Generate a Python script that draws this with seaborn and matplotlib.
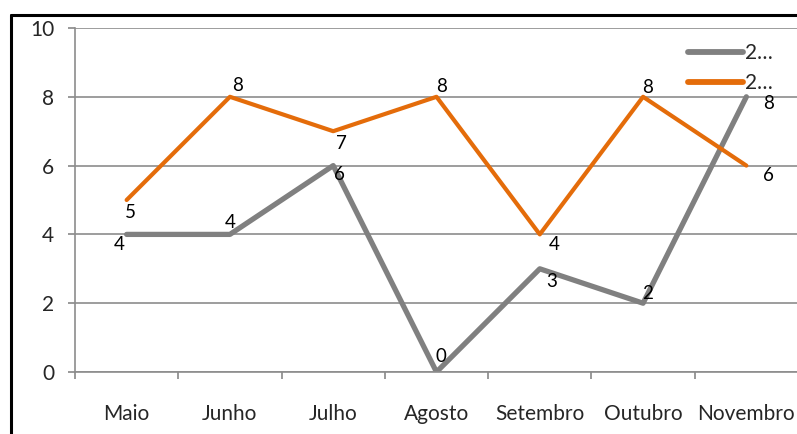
import matplotlib
matplotlib.use("Agg")
import matplotlib.pyplot as plt
import seaborn as sns
import pandas as pd
from matplotlib.lines import Line2D
from matplotlib.ticker import FixedLocator

meses = ["Maio", "Junho", "Julho", "Agosto", "Setembro", "Outubro", "Novembro"]
serie_cinza = [4, 4, 6, 0, 3, 2, 8]
serie_laranja = [5, 8, 7, 8, 4, 8, 6]
nomes_series = ["2…", "2…"]

# label offsets in pixels (dx, dy) relative to each point
off_cinza = [(-7, -10), (0, 12), (6, -9), (4, 15), (12, -13), (4, 10), (22, -7)]
off_laranja = [(4, -12), (8, 11), (8, -12), (5, 10), (14, -10), (4, 9), (22, -10)]

sns.set_theme(style="white")
plt.rcParams["font.family"] = ["Lato", "DejaVu Sans"]

fig = plt.figure(figsize=(7.97, 4.34), dpi=100)
ax = fig.add_axes([75 / 797, 62 / 434, 723 / 797, 344 / 434])

df = pd.DataFrame({"mes": list(range(len(meses))), "cinza": serie_cinza, "laranja": serie_laranja})

sns.lineplot(data=df, x="mes", y="cinza", ax=ax, color="#808080", linewidth=3.8,
             label=nomes_series[0], solid_capstyle="round")
sns.lineplot(data=df, x="mes", y="laranja", ax=ax, color="#E46C0A", linewidth=3.0,
             label=nomes_series[1], solid_capstyle="round")

for vals, offs in [(serie_cinza, off_cinza), (serie_laranja, off_laranja)]:
    for i, (v, (dx, dy)) in enumerate(zip(vals, offs)):
        ax.annotate(str(v), (i, v), xytext=(dx * 0.72, dy * 0.72), textcoords="offset points",
                    ha="center", va="center", fontsize=13.5, color="black")

ax.set_xlim(-0.5, len(meses) - 0.5)
ax.set_ylim(0, 10)
ax.set_yticks([0, 2, 4, 6, 8, 10])
ax.set_xticks(range(len(meses)))
ax.set_xticklabels(meses, fontsize=15)
ax.tick_params(axis="y", labelsize=15, length=5, width=1.2, color="#888888", direction="out", pad=10, left=True)
ax.tick_params(axis="x", which="major", length=0, pad=23)
ax.xaxis.set_minor_locator(FixedLocator([i - 0.5 for i in range(len(meses) + 1)]))
ax.tick_params(axis="x", which="minor", length=5, width=1.2, color="#888888", direction="out", bottom=True)
ax.set_xlabel("")
ax.set_ylabel("")

ax.grid(axis="y", color="#8c8c8c", linewidth=1.2)
ax.grid(axis="x", visible=False)
for side in ["top", "right"]:
    ax.spines[side].set_visible(False)
for side in ["left", "bottom"]:
    ax.spines[side].set_color("#8c8c8c")
    ax.spines[side].set_linewidth(1.2)

leg = ax.legend(loc="upper left", bbox_to_anchor=(603 / 723, 1 - 5 / 344), frameon=False,
                fontsize=15, handlelength=2.6, handletextpad=0.1, labelspacing=0.45, borderpad=0)
for h in leg.get_lines():
    h.set_linewidth(4.2)

# black frame lines at top and left of the picture
fig.add_artist(Line2D([11 / 797, 1], [1 - 15 / 434, 1 - 15 / 434], color="black", linewidth=2.2,
                      transform=fig.transFigure))
fig.add_artist(Line2D([11 / 797, 11 / 797], [0, 1 - 15 / 434], color="black", linewidth=2.2,
                      transform=fig.transFigure))

fig.savefig("out.png", dpi=100)
